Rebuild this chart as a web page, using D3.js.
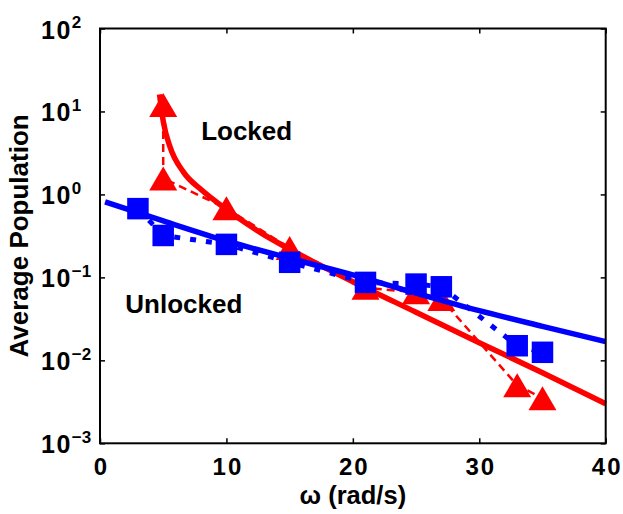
<!DOCTYPE html>
<html>
<head>
<meta charset="utf-8">
<script src="https://cdn.jsdelivr.net/npm/d3@7"></script>
<style>
  html, body { margin: 0; padding: 0; background: #fff; }
  svg { display: block; font-family: "Liberation Sans", Arial, sans-serif; font-weight: bold; }
</style>
</head>
<body>
<svg id="chart" width="623" height="514"></svg>
<script>
// ---- data ----
const omegaLocked   = [5, 5, 10, 15, 21, 25, 27, 33, 35];
const popLocked     = [12, 1.56, 0.68, 0.226, 0.075, 0.066, 0.055, 0.005, 0.0035];
const omegaUnlocked = [3, 5, 10, 15, 21, 25, 27, 33, 35];
const popUnlocked   = [0.674, 0.32, 0.25, 0.152, 0.087, 0.083, 0.077, 0.015, 0.0125];

const fitLockedOmega = [4.71, 5.01, 5.54, 6.59, 8.04, 9.36, 10.81, 12.79, 14.64, 20, 25, 30, 35, 40];
const fitLockedPop   = [16.1, 7.5, 3.74, 1.87, 1.13, 0.78, 0.537, 0.339, 0.234, 0.0887, 0.038, 0.0163, 0.00708, 0.0030];
const fitUnlockedOmega = [0.4, 5, 10, 15, 20, 25, 30, 35, 40];
const fitUnlockedPop   = [0.815, 0.479, 0.275, 0.170, 0.107, 0.0646, 0.0398, 0.0257, 0.0168];

const xTicks = [0, 10, 20, 30, 40];
const yTicks = [1e-3, 1e-2, 1e-1, 1e0, 1e1, 1e2];
const yTickExps = ["\u22123", "\u22122", "\u22121", "0", "1", "2"];
const xLabel = "\u03c9  (rad/s)";
const yLabel = "Average Population";

// ---- layout ----
const L = 100, R = 605.7, T = 28.5, B = 443.3;
const RED = "#ff0000", BLUE = "#0000ff";

const svg = d3.select("#chart");
const x = d3.scaleLinear().domain([0, 40]).range([L, R]);
const y = d3.scaleLog().domain([1e-3, 1e2]).range([B, T]);

const zip = (a, b) => a.map((d, i) => [d, b[i]]);

// ---- series ----
const line = d3.line().x(d => x(d[0])).y(d => y(d[1]));
const smooth = d3.line().x(d => x(d[0])).y(d => y(d[1])).curve(d3.curveMonotoneX);

// red fit
svg.append("path").attr("d", smooth(zip(fitLockedOmega, fitLockedPop)))
  .attr("fill", "none").attr("stroke", RED).attr("stroke-width", 5.5);
// red dashed data
svg.append("path").attr("d", line(zip(omegaLocked, popLocked)))
  .attr("fill", "none").attr("stroke", RED).attr("stroke-width", 2.5)
  .attr("stroke-dasharray", "8,5");
// red triangles
const triW = 28, triH = 24;
svg.append("g").selectAll("path").data(zip(omegaLocked, popLocked)).join("path")
  .attr("transform", d => `translate(${x(d[0])},${y(d[1])})`)
  .attr("d", `M0,${-triH/2}L${triW/2},${triH/2}L${-triW/2},${triH/2}Z`)
  .attr("fill", RED);

// blue fit
svg.append("path").attr("d", smooth(zip(fitUnlockedOmega, fitUnlockedPop)))
  .attr("fill", "none").attr("stroke", BLUE).attr("stroke-width", 5.5);
// blue dotted data
svg.append("path").attr("d", line(zip(omegaUnlocked, popUnlocked)))
  .attr("fill", "none").attr("stroke", BLUE).attr("stroke-width", 5)
  .attr("stroke-dasharray", "6,10");
// blue squares
const sq = 21.5;
svg.append("g").selectAll("rect").data(zip(omegaUnlocked, popUnlocked)).join("rect")
  .attr("x", d => x(d[0]) - sq/2).attr("y", d => y(d[1]) - sq/2)
  .attr("width", sq).attr("height", sq).attr("fill", BLUE);

// ---- axes ----
const tickLen = 5;
const gx = svg.append("g").attr("transform", `translate(0,${B})`)
  .call(d3.axisBottom(x).tickValues(xTicks).tickSize(-tickLen).tickFormat(d3.format("d")));
const gxTop = svg.append("g").attr("transform", `translate(0,${T})`)
  .call(d3.axisTop(x).tickValues(xTicks).tickSize(-tickLen).tickFormat(""));
const gy = svg.append("g").attr("transform", `translate(${L},0)`)
  .call(d3.axisLeft(y).tickValues(yTicks).tickSize(-tickLen).tickFormat(""));
const gyR = svg.append("g").attr("transform", `translate(${R},0)`)
  .call(d3.axisRight(y).tickValues(yTicks).tickSize(-tickLen).tickFormat(""));

[gx, gxTop, gy, gyR].forEach(g => {
  g.select(".domain").remove();
  g.selectAll(".tick line").attr("stroke", "#000").attr("stroke-width", 1.5);
});
gx.selectAll(".tick text").attr("font-size", 24).attr("font-weight", "bold")
  .attr("letter-spacing", 2)
  .attr("font-family", "Liberation Sans, Arial, sans-serif").attr("fill", "#000")
  .attr("dy", null).attr("y", 475.5 - B).attr("dx", 1);

// y labels with superscripts
gy.selectAll(".tick").each(function(d, i) {
  const t = d3.select(this).append("text")
    .attr("x", -L + 41).attr("y", 9.5)
    .attr("text-anchor", "start").attr("fill", "#000")
    .attr("font-size", 25).attr("font-weight", "bold")
    .attr("font-family", "Liberation Sans, Arial, sans-serif");
  t.append("tspan").attr("letter-spacing", 1.5).text("10");
  t.append("tspan").attr("dy", -10.5).attr("font-size", 17).text(yTickExps[i]);
});

// box
svg.append("rect").attr("x", L).attr("y", T).attr("width", R - L).attr("height", B - T)
  .attr("fill", "none").attr("stroke", "#000").attr("stroke-width", 2);

// ---- labels ----
svg.append("text").attr("x", (L + R) / 2).attr("y", 503.5).attr("text-anchor", "middle")
  .attr("font-size", 25.5).text(xLabel);
svg.append("text").attr("transform", `translate(28,${(T + B) / 2}) rotate(-90)`)
  .attr("text-anchor", "middle").attr("font-size", 26).text(yLabel);

// annotations
svg.append("text").attr("x", x(8.0)).attr("y", 140).attr("font-size", 26).text("Locked");
svg.append("text").attr("x", x(2.0)).attr("y", 313).attr("font-size", 26).text("Unlocked");
</script>
</body>
</html>
